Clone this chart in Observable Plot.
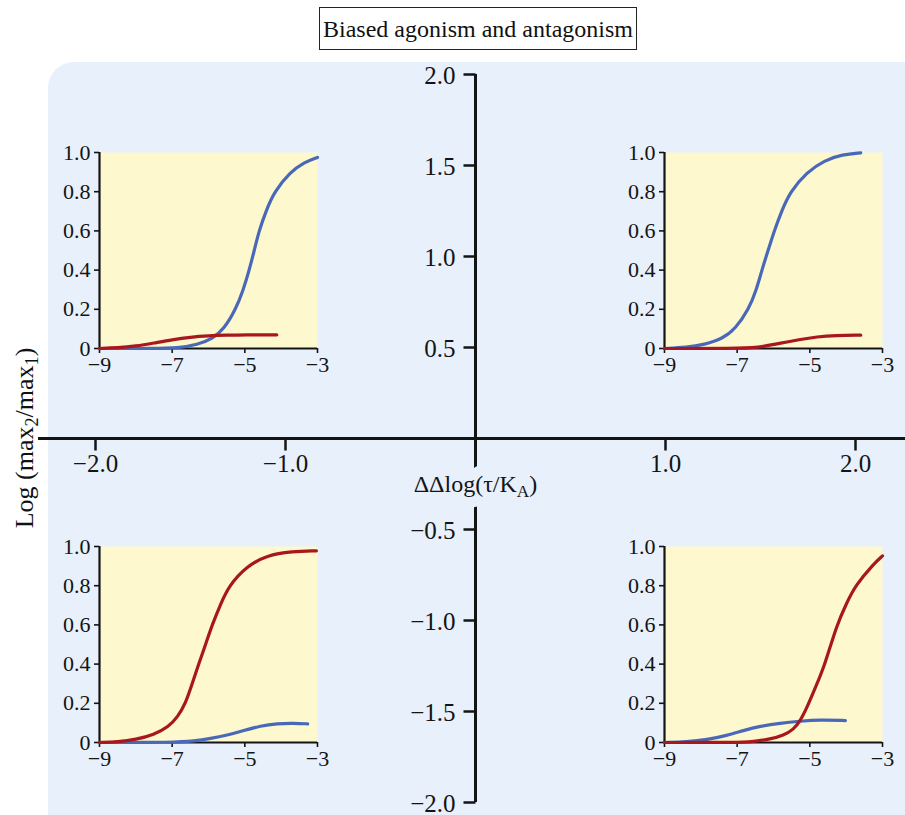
<!DOCTYPE html>
<html><head><meta charset="utf-8">
<script src="https://cdn.jsdelivr.net/npm/d3@7"></script>
<script src="https://cdn.jsdelivr.net/npm/@observablehq/plot@0.6"></script>
<style>
body{margin:0;background:#fff;}
#wrap{position:relative;width:905px;height:815px;overflow:hidden;font-family:"Liberation Serif","DejaVu Serif",serif;color:#111;}
#panel{position:absolute;left:48px;top:62px;width:900px;height:800px;border-radius:26px;background:#E8F0FB;}
#title{position:absolute;left:319px;top:7px;width:316px;height:41px;border:1.2px solid #222;font-size:24px;line-height:42px;text-align:center;background:#fff;}
#ylab{position:absolute;left:25px;top:438px;transform:translate(-50%,-50%) rotate(-90deg);white-space:nowrap;font-size:26px;}
#ylab sub{font-size:0.7em;vertical-align:-0.25em;line-height:0;}
.abs{position:absolute;}
</style></head><body>
<div id="wrap">
  <div id="panel"></div>
  <div id="title"></div>
  <div id="ylab"></div>
  <div id="main" class="abs" style="left:0;top:0"></div>
  <div id="tl" class="abs" style="left:53px;top:140px"></div>
  <div id="tr" class="abs" style="left:618px;top:140px"></div>
  <div id="bl" class="abs" style="left:53px;top:534px"></div>
  <div id="br" class="abs" style="left:618px;top:534px"></div>
</div>
<script>
// ---- text ----
const titleText = "Biased agonism and antagonism";
const xAxisLabel = "ΔΔlog(τ/KA)";
const yAxisLabelParts = ["Log (max", "2", "/max", "1", ")"];

// ---- main axes ticks ----
const mainXTicks = [-2, -1, 1, 2];
const mainXTickLabels = ["−2.0", "−1.0", "1.0", "2.0"];
const mainYTicks = [2, 1.5, 1, 0.5, -0.5, -1, -1.5, -2];
const mainYTickLabels = ["2.0", "1.5", "1.0", "0.5", "−0.5", "−1.0", "−1.5", "−2.0"];

// ---- inset axes ticks ----
const insetXTicks = [-9, -7, -5, -3];
const insetXTickLabels = ["−9", "−7", "−5", "−3"];
const insetYTicks = [0, 0.2, 0.4, 0.6, 0.8, 1.0];
const insetYTickLabels = ["0", "0.2", "0.4", "0.6", "0.8", "1.0"];

// ---- inset curves: [log concentration, response] ----
const tlBlue = [[-9,0],[-7.5,0],[-6.85,0.002],[-6.3,0.02],[-5.89,0.05],[-5.57,0.1],[-5.25,0.2],[-5.04,0.3],[-4.88,0.4],[-4.74,0.5],[-4.61,0.6],[-4.42,0.7],[-4.19,0.8],[-3.75,0.9],[-3.37,0.95],[-3.0,0.975]];
const tlRed = [[-9,0],[-8.5,0.003],[-8,0.012],[-7.5,0.028],[-7,0.045],[-6.5,0.058],[-6,0.065],[-5.5,0.068],[-5,0.07],[-4.12,0.07]];
const trBlue = [[-9,0],[-8.4,0.005],[-7.9,0.02],[-7.4,0.05],[-7.05,0.1],[-6.68,0.2],[-6.47,0.3],[-6.32,0.4],[-6.15,0.5],[-5.98,0.6],[-5.78,0.7],[-5.54,0.8],[-5.08,0.9],[-4.6,0.96],[-4.1,0.99],[-3.6,0.998]];
const trRed = [[-9,0],[-6.7,0],[-6.3,0.01],[-5.8,0.027],[-5.3,0.045],[-4.8,0.06],[-4.3,0.067],[-3.6,0.068]];
const blRed = [[-9,0],[-8.5,0.003],[-8.0,0.015],[-7.5,0.04],[-7.1,0.08],[-6.85,0.13],[-6.63,0.2],[-6.45,0.3],[-6.27,0.4],[-6.08,0.5],[-5.9,0.6],[-5.68,0.7],[-5.44,0.8],[-4.94,0.9],[-4.4,0.955],[-3.7,0.975],[-3.03,0.978]];
const blBlue = [[-9,0],[-6.95,0],[-6.4,0.007],[-5.94,0.02],[-5.49,0.037],[-5.03,0.061],[-4.57,0.085],[-4.11,0.097],[-3.65,0.099],[-3.27,0.095]];
const brBlue = [[-9,0],[-8.39,0.003],[-7.83,0.014],[-7.28,0.036],[-6.83,0.061],[-6.37,0.083],[-5.82,0.099],[-5.27,0.109],[-4.72,0.116],[-4.02,0.112]];
const brRed = [[-9,0],[-7.0,0],[-6.55,0.005],[-6.09,0.017],[-5.72,0.037],[-5.45,0.066],[-5.27,0.109],[-5.08,0.177],[-4.81,0.296],[-4.58,0.4],[-4.26,0.6],[-3.98,0.714],[-3.75,0.8],[-3.25,0.91],[-3.0,0.952]];

// ---- styles ----
const FONT = "Liberation Serif, DejaVu Serif, serif";
const INK = "#141414";
const PANEL = "#E8F0FB";
const YELLOW = "#FDF8CD";
const BLUE = "#4A68B8";
const RED = "#A8171D";

document.getElementById("title").textContent = titleText;
const ylab = document.getElementById("ylab");
yAxisLabelParts.forEach((t, i) => {
  if (i % 2 === 1) { const s = document.createElement("sub"); s.textContent = t; ylab.appendChild(s); }
  else ylab.appendChild(document.createTextNode(t));
});

const tickDown = {draw(ctx) { ctx.moveTo(0, 0); ctx.lineTo(0, 12); }};
const tickLeft = {draw(ctx) { ctx.moveTo(0, 0); ctx.lineTo(-12, 0); }};

const main = Plot.plot({
  width: 905, height: 815,
  marginLeft: 38, marginRight: 0, marginTop: 0, marginBottom: 0,
  x: {domain: [-2, 2], range: [95, 855], axis: null},
  y: {domain: [-2, 2], range: [802, 74], axis: null},
  style: {background: "transparent", fontFamily: FONT, color: INK, overflow: "visible"},
  marks: [
    Plot.ruleY([0], {stroke: INK, strokeWidth: 3}),
    Plot.ruleX([0], {y1: d3.min(mainYTicks), y2: d3.max(mainYTicks), stroke: INK, strokeWidth: 3}),
    Plot.dot(mainXTicks, {x: d => d, y: 0, symbol: tickDown, fill: "none", stroke: INK, strokeWidth: 2.5}),
    Plot.dot(mainYTicks, {x: 0, y: d => d, symbol: tickLeft, fill: "none", stroke: INK, strokeWidth: 2.5}),
    Plot.text(mainXTicks, {x: d => d, y: 0, text: (d, i) => mainXTickLabels[i], dy: 25, fontSize: 25, fill: INK}),
    Plot.text(mainYTicks, {x: 0, y: d => d, text: (d, i) => mainYTickLabels[i], dx: -20, dy: 1, textAnchor: "end", fontSize: 25, fill: INK}),
    // mask behind the axis label (interrupts the vertical axis), then the label itself
    Plot.text([xAxisLabel], {x: 0, y: 0, text: d => d, dy: 46, fontSize: 24, fill: PANEL, stroke: PANEL, strokeWidth: 22, strokeLinejoin: "round"}),
    Plot.text([xAxisLabel], {x: 0, y: 0, text: d => d, dy: 46, fontSize: 24, fill: INK})
  ]
});
document.getElementById("main").appendChild(main);
// subscript "A" in the axis label (for both the mask and the label)
d3.select(main).selectAll("text").filter(function() { return this.textContent === xAxisLabel; })
  .each(function() {
    const t = d3.select(this);
    t.text(null);
    t.append("tspan").text(xAxisLabel.slice(0, -2));
    t.append("tspan").attr("font-size", "0.72em").attr("dy", "0.25em").text(xAxisLabel.slice(-2, -1));
    t.append("tspan").attr("dy", "-0.18em").text(xAxisLabel.slice(-1));
  });

function inset(el, blue, red) {
  const p = Plot.plot({
    width: 218 + 46 + 16, height: 196 + 12 + 34,
    marginLeft: 46, marginRight: 16, marginTop: 12, marginBottom: 34,
    x: {domain: [-9, -3]},
    y: {domain: [0, 1]},
    style: {background: "transparent", fontFamily: FONT, color: INK, overflow: "visible"},
    marks: [
      Plot.frame({fill: YELLOW, stroke: "none"}),
      Plot.axisX({ticks: insetXTicks, tickFormat: d => insetXTickLabels[insetXTicks.indexOf(d)], tickSize: 5, tickPadding: 3, strokeWidth: 1.6, fontSize: 22, label: null}),
      Plot.axisY({ticks: insetYTicks, tickFormat: d => insetYTickLabels[insetYTicks.indexOf(d)], tickSize: 5, tickPadding: 4, strokeWidth: 1.6, fontSize: 22, label: null}),
      Plot.ruleX([-9], {stroke: INK, strokeWidth: 2.2}),
      Plot.ruleY([0], {stroke: INK, strokeWidth: 2.2}),
      Plot.line(blue, {x: d => d[0], y: d => d[1], stroke: BLUE, strokeWidth: 3.2, curve: "basis"}),
      Plot.line(red, {x: d => d[0], y: d => d[1], stroke: RED, strokeWidth: 3.2, curve: "basis"})
    ]
  });
  document.getElementById(el).appendChild(p);
}
inset("tl", tlBlue, tlRed);
inset("tr", trBlue, trRed);
inset("bl", blBlue, blRed);
inset("br", brBlue, brRed);
</script>
</body></html>
